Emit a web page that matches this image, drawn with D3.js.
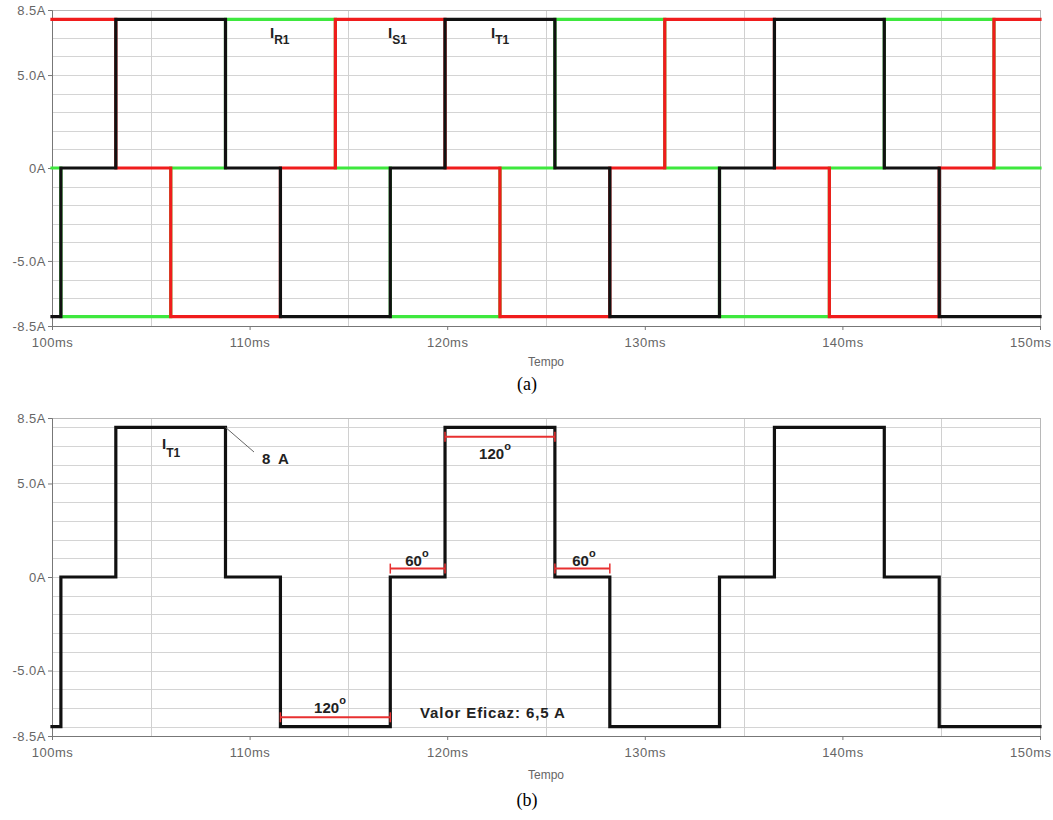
<!DOCTYPE html>
<html><head><meta charset="utf-8">
<script src="https://cdn.jsdelivr.net/npm/d3@7"></script>
<style>
body{margin:0;background:#fff;}
text{font-family:"Liberation Sans",Arial,sans-serif;}
</style></head>
<body>
<script>
// ---- data ----
const xTickValues = [100, 110, 120, 130, 140, 150];
const xTickLabels = ["100ms", "110ms", "120ms", "130ms", "140ms", "150ms"];
const yTickValues = [8.5, 5, 0, -5, -8.5];
const yTickLabels = ["8.5A", "5.0A", "0A", "-5.0A", "-8.5A"];
const gridYValues = [8, 7, 6, 5, 4, 3, 2, 1, 0, -1, -2, -3, -4, -5, -6, -7, -8];
const gridXValues = [105, 115, 125, 135, 145];

// step breakpoints: time (ms) and current (A) after that time
const iR1Time = [100, 100.45, 106.01, 108.78, 114.34, 117.12, 122.67, 125.45, 131.01, 133.78, 139.34, 142.12, 147.67, 150];
const iR1Val  = [0, -8, 0, 8, 0, -8, 0, 8, 0, -8, 0, 8, 0, 0];
const iS1Time = [100, 103.23, 106.01, 111.56, 114.34, 119.89, 122.67, 128.23, 131.01, 136.56, 139.34, 144.90, 147.67, 150];
const iS1Val  = [8, 0, -8, 0, 8, 0, -8, 0, 8, 0, -8, 0, 8, 8];
const iT1Time = [100, 100.45, 103.23, 108.78, 111.56, 117.12, 119.89, 125.45, 128.23, 133.78, 136.56, 142.12, 144.90, 150];
const iT1Val  = [-8, 0, 8, 0, -8, 0, 8, 0, -8, 0, 8, 0, -8, -8];

// angle brackets in panel (b): start, end (ms), level (A), label
const bracketStart = [119.89, 111.56, 117.12, 125.45];
const bracketEnd   = [125.45, 117.12, 119.89, 128.23];
const bracketLevel = [7.5, -7.5, 0.45, 0.45];
const bracketLabel = ["120", "120", "60", "60"];

const W = 1053, H = 820;
const svg = d3.select("body").append("svg").attr("width", W).attr("height", H);
svg.append("rect").attr("width", W).attr("height", H).attr("fill", "#fff");

const x = d3.scaleLinear().domain([100, 150]).range([52, 1040]);

const toPts = (t, v) => t.map((d, i) => [d, v[i]]);

function panel(top, bottom, series, caption, titleY, capY) {
  const y = d3.scaleLinear().domain([-8.5, 8.5]).range([bottom, top]);
  const g = svg.append("g");
  // grid
  g.selectAll(".gy").data(gridYValues).join("line")
    .attr("x1", x(100)).attr("x2", x(150))
    .attr("y1", d => Math.round(y(d)) + 0.5).attr("y2", d => Math.round(y(d)) + 0.5)
    .attr("stroke", "#d4d4d4").attr("stroke-width", 1);
  g.selectAll(".gx").data(gridXValues).join("line")
    .attr("y1", top).attr("y2", bottom)
    .attr("x1", d => Math.round(x(d)) + 0.5).attr("x2", d => Math.round(x(d)) + 0.5)
    .attr("stroke", "#d0d0d0").attr("stroke-width", 1);
  // frame
  g.append("rect").attr("x", x(100) + 0.5).attr("y", top + 0.5)
    .attr("width", x(150) - x(100)).attr("height", bottom - top)
    .attr("fill", "none").attr("stroke", "#b8b8b8");
  // axes
  const xAxis = d3.axisBottom(x).tickValues(xTickValues).tickFormat((d, i) => xTickLabels[i]).tickSize(4).tickPadding(8);
  const ax = g.append("g").attr("transform", `translate(0,${bottom})`).call(xAxis);
  ax.select(".domain").attr("stroke", "#777");
  ax.selectAll(".tick line").attr("stroke", "#777");
  ax.selectAll(".tick text").attr("fill", "#666").attr("font-size", 13).attr("letter-spacing", 0.5)
    .attr("font-family", "Liberation Sans, Arial, sans-serif");
  ax.selectAll(".tick text").filter(d => d === 150).attr("text-anchor", "end").attr("x", 11);
  const yAxis = d3.axisLeft(y).tickValues(yTickValues).tickFormat((d, i) => yTickLabels[i]).tickSize(4).tickPadding(2);
  const ay = g.append("g").attr("transform", `translate(${x(100)},0)`).call(yAxis);
  ay.select(".domain").attr("stroke", "#777");
  ay.selectAll(".tick line").attr("stroke", "#777");
  ay.selectAll(".tick text").attr("fill", "#666").attr("font-size", 13).attr("letter-spacing", 0.5)
    .attr("font-family", "Liberation Sans, Arial, sans-serif");
  // traces
  const line = d3.line().x(d => x(d[0])).y(d => y(d[1])).curve(d3.curveStepAfter);
  series.forEach(s => {
    g.append("path").datum(toPts(s.t, s.v)).attr("d", line)
      .attr("fill", "none").attr("stroke", s.color).attr("stroke-width", 3.2)
      .attr("stroke-linejoin", "miter").attr("stroke-linecap", "square");
  });
  // titles
  g.append("text").attr("x", (x(100) + x(150)) / 2).attr("y", titleY)
    .attr("text-anchor", "middle").attr("font-size", 12).attr("fill", "#666").text("Tempo");
  svg.append("text").attr("x", 527).attr("y", capY).attr("text-anchor", "middle")
    .attr("font-size", 18)
    .style("font-family", "'Liberation Serif','Times New Roman',serif")
    .attr("fill", "#000").text(caption);
  return { g, y };
}

function subLabel(g, xp, yp, main, sub, dy) {
  const t = g.append("text").attr("x", xp).attr("y", yp).attr("font-weight", "bold").attr("fill", "#222");
  t.append("tspan").attr("font-size", 15).text(main);
  t.append("tspan").attr("font-size", 12).attr("dy", dy).text(sub);
}

// Panel (a)
const pa = panel(10, 326, [
  { t: iR1Time, v: iR1Val, color: "#3ee83e" },
  { t: iS1Time, v: iS1Val, color: "#f01c1c" },
  { t: iT1Time, v: iT1Val, color: "#111" }
], "(a)", 366, 390);
subLabel(pa.g, 270, 38, "I", "R1", 6);
subLabel(pa.g, 388, 38, "I", "S1", 6);
subLabel(pa.g, 491, 38, "I", "T1", 6);

// Panel (b)
const pb = panel(418, 736, [
  { t: iT1Time, v: iT1Val, color: "#111" }
], "(b)", 779, 806);
subLabel(pb.g, 162, 449, "I", "T1", 8);

// leader for 8 A
pb.g.append("line").attr("x1", x(108.78)).attr("y1", pb.y(8))
  .attr("x2", 254).attr("y2", 452).attr("stroke", "#666").attr("stroke-width", 1);
pb.g.append("text").attr("x", 262).attr("y", 464).attr("font-weight", "bold").attr("font-size", 15)
  .attr("fill", "#222").style("white-space", "pre").text("8  A");

// brackets
const br = pb.g.append("g");
bracketStart.forEach((s, i) => {
  const e = bracketEnd[i], yy = pb.y(bracketLevel[i]);
  br.append("line").attr("x1", x(s)).attr("x2", x(e)).attr("y1", yy).attr("y2", yy)
    .attr("stroke", "#e83030").attr("stroke-width", 2);
  [s, e].forEach(t => br.append("line").attr("x1", x(t)).attr("x2", x(t))
    .attr("y1", yy - 5).attr("y2", yy + 5).attr("stroke", "#e83030").attr("stroke-width", 1.5));
});
// bracket labels
const lblX = [495, 330, 417, 584];
const lblY = [459, 713, 566, 566];
bracketLabel.forEach((l, i) => {
  const t = pb.g.append("text").attr("x", lblX[i]).attr("y", lblY[i]).attr("text-anchor", "middle")
    .attr("font-weight", "bold").attr("fill", "#222");
  t.append("tspan").attr("font-size", 15).text(l);
  t.append("tspan").attr("font-size", 11).attr("dy", -9).text("o");
});

pb.g.append("text").attr("x", 420).attr("y", 718).attr("font-weight", "bold").attr("font-size", 15)
  .attr("letter-spacing", 0.9).attr("fill", "#222").text("Valor Eficaz: 6,5 A");
</script>
</body></html>
